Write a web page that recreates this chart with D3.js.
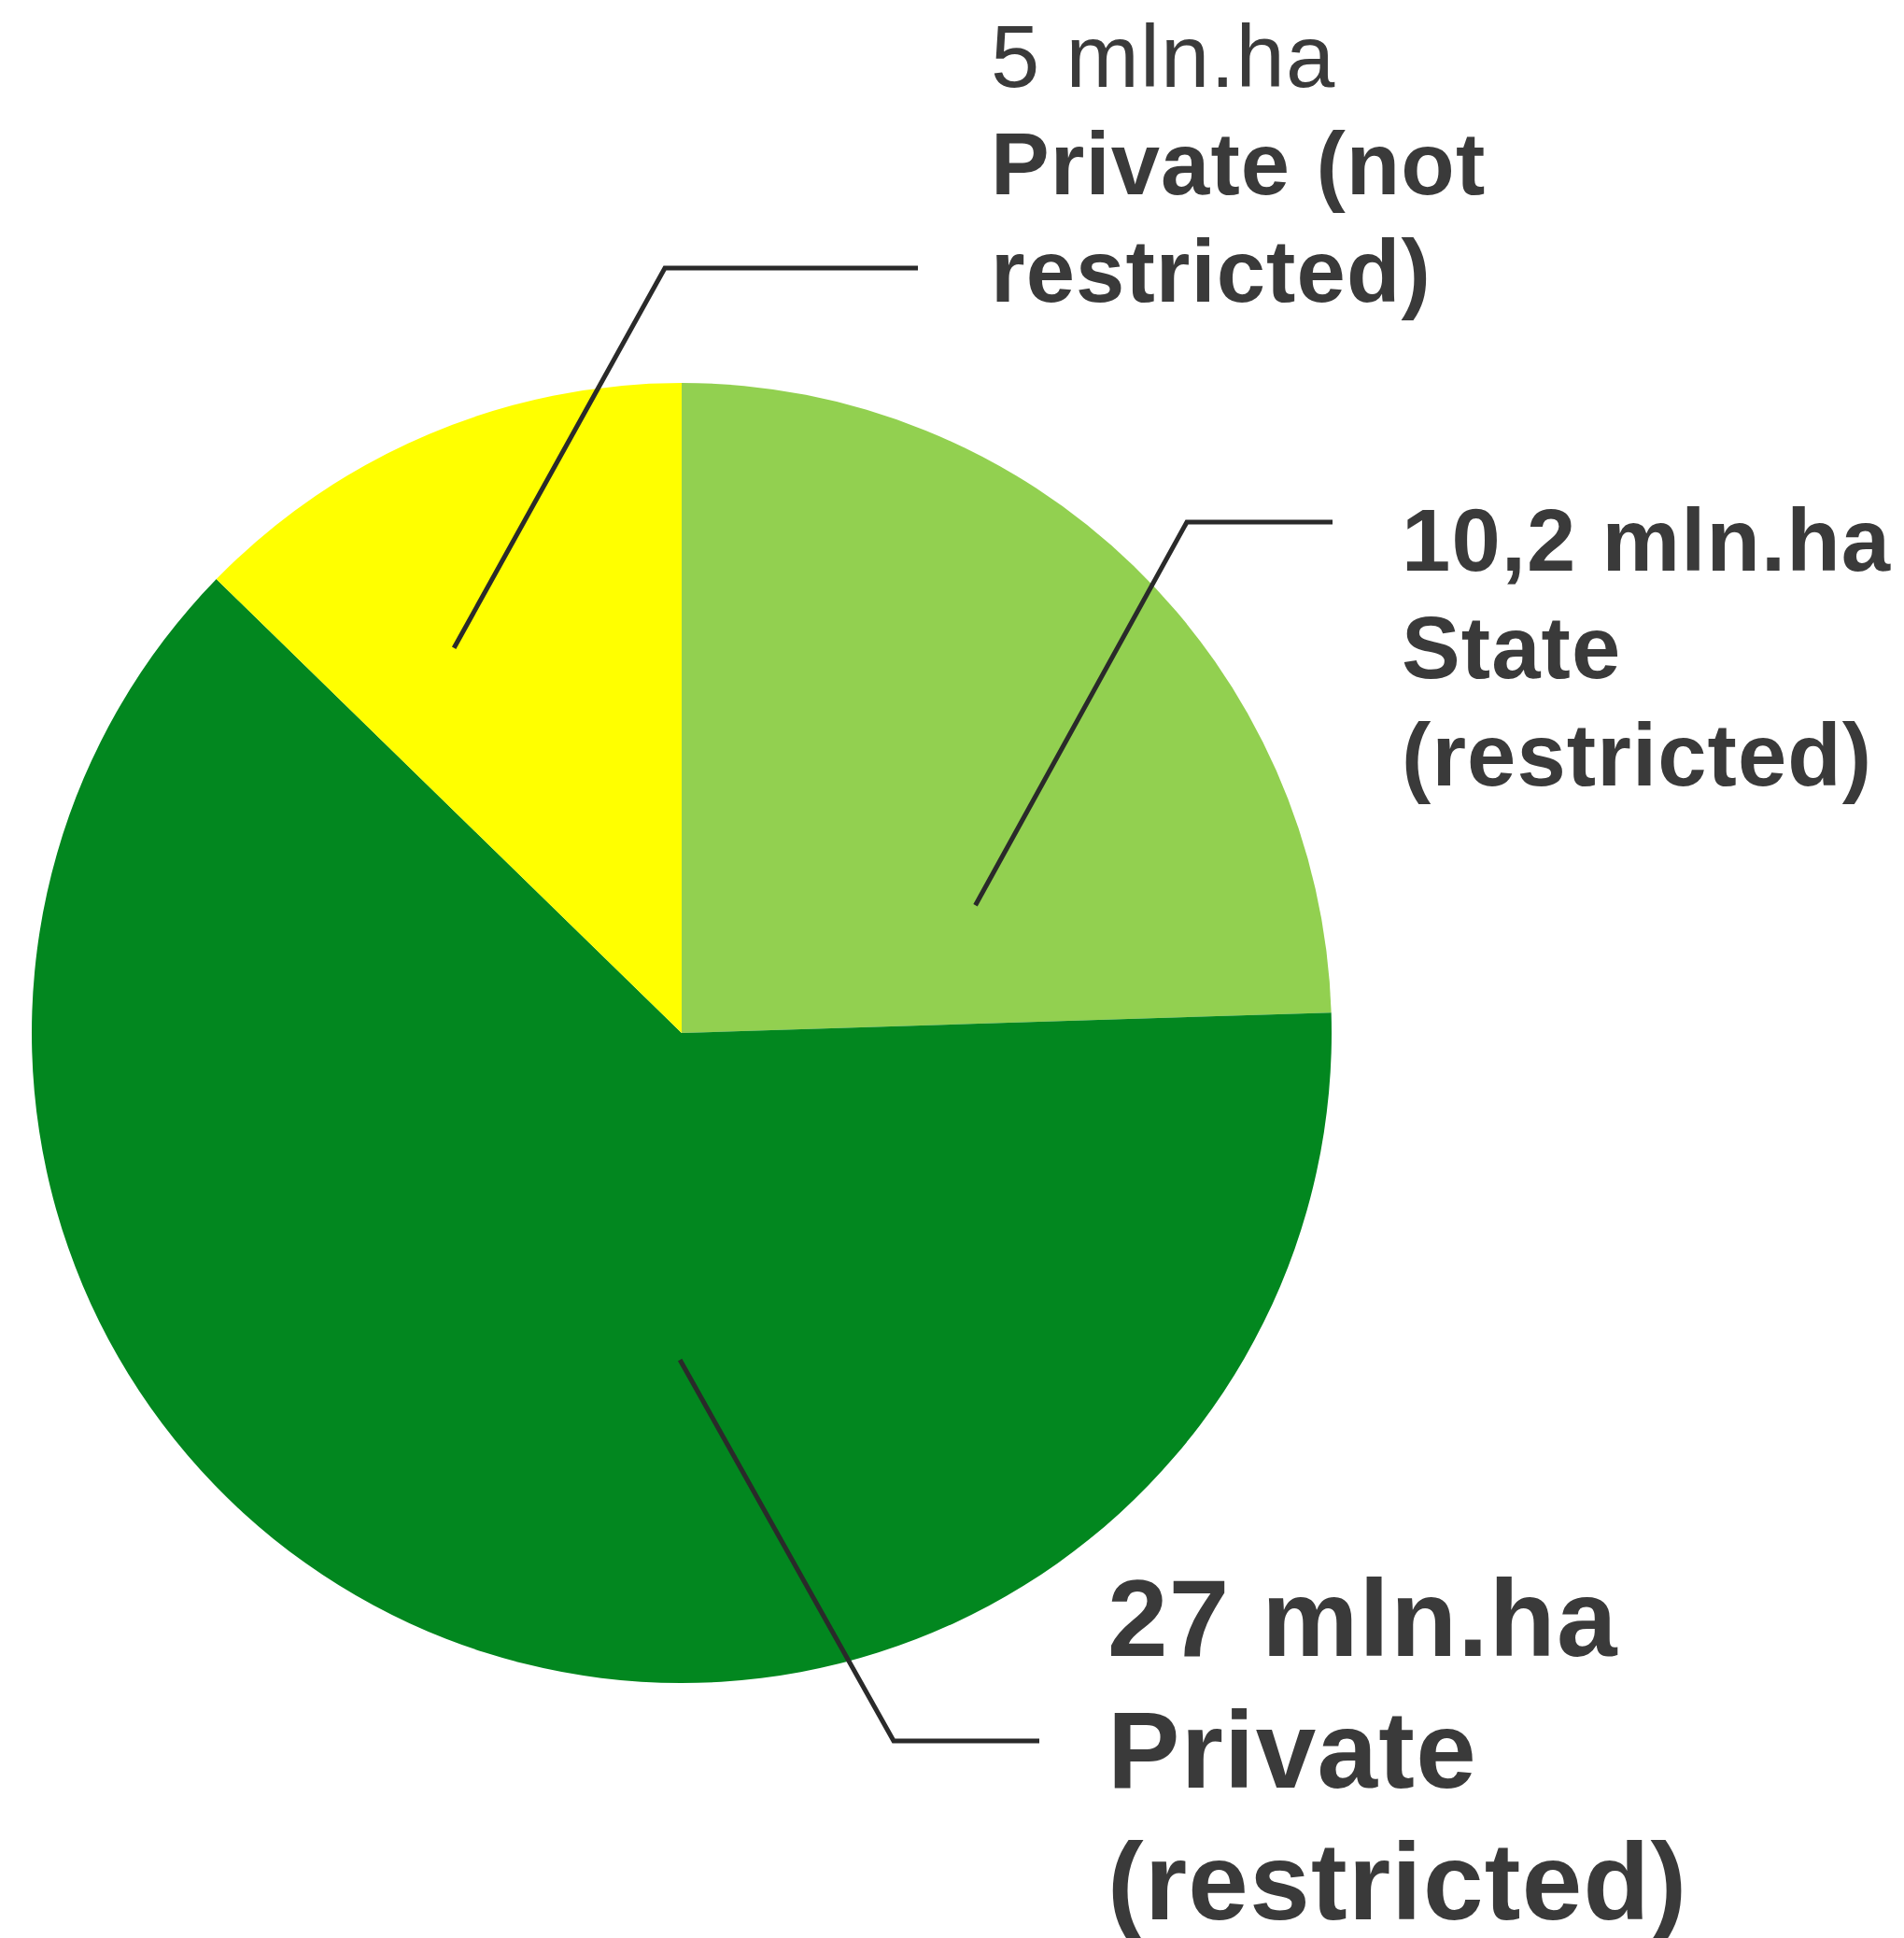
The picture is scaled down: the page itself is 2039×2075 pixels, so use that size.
<!DOCTYPE html>
<html>
<head>
<meta charset="utf-8">
<script src="https://cdn.jsdelivr.net/npm/d3@7"></script>
<style>
  html, body { margin: 0; padding: 0; background: #fff; }
  svg { display: block; }
</style>
</head>
<body>
<svg id="chart" width="2039" height="2075"></svg>
<script>
// slices in drawing order, clockwise from 12 o'clock
const categories = ["State (restricted)", "Private (restricted)", "Private (not restricted)"];
// share of the circle (percent)
const shares = [24.5, 62.8, 12.7];
const valueLabels = ["10,2 mln.ha", "27 mln.ha", "5 mln.ha"];
const nameLines = [["State", "(restricted)"], ["Private", "(restricted)"], ["Private (not", "restricted)"]];
const colors = ["#92d050", "#02871f", "#ffff00"];

var width = 2039, height = 2075;
var cx = 730, cy = 1106, radius = 696;

var svg = d3.select("#chart");

var pie = d3.pie().sort(null).startAngle(0).endAngle(2 * Math.PI);
var arc = d3.arc().innerRadius(0).outerRadius(radius);

var arcs = pie(shares);

var g = svg.append("g").attr("transform", "translate(" + cx + "," + cy + ")");

g.selectAll("path.slice")
  .data(arcs)
  .enter().append("path")
  .attr("class", "slice")
  .attr("fill", (d, i) => colors[i])
  .attr("d", arc);

// label layout: anchor inside slice (polar, degrees from top), elbow, line end, text spot
var labelLayout = [
  {anchor: [66.5, 343], elbow: [1271, 559], end: [1427, 559], x: 1501, y: 611, size: 94, lh: 115, ls: 1.1, boldFirst: true},
  {anchor: [180.3, 350], elbow: [957, 1864], end: [1113, 1864], x: 1186, y: 1773, size: 116, lh: 141, ls: 1.3, boldFirst: true},
  {anchor: [329.4, 479], elbow: [712, 287], end: [983, 287], x: 1061, y: 93, size: 94, lh: 115, ls: 1.1, boldFirst: false}
];

var line = d3.line();

labelLayout.forEach((L, i) => {
  var p = d3.pointRadial(L.anchor[0] * Math.PI / 180, L.anchor[1]);
  var pts = [[cx + p[0], cy + p[1]], L.elbow, L.end];
  svg.append("path")
    .attr("d", line(pts))
    .attr("fill", "none")
    .attr("stroke", "#2a2a2a")
    .attr("stroke-width", 5)
    .attr("stroke-linejoin", "miter");

  var t = svg.append("text")
    .attr("x", L.x)
    .attr("y", L.y)
    .attr("fill", "#3a3a3a")
    .attr("font-family", "'Liberation Sans', Arial, sans-serif")
    .attr("font-size", L.size)
    .attr("letter-spacing", L.ls);

  var lines = [valueLabels[i]].concat(nameLines[i]);
  lines.forEach((s, k) => {
    t.append("tspan")
      .attr("x", L.x)
      .attr("dy", k === 0 ? 0 : L.lh)
      .attr("font-weight", (k === 0 && !L.boldFirst) ? "normal" : "bold")
      .text(s);
  });
});
</script>
</body>
</html>
